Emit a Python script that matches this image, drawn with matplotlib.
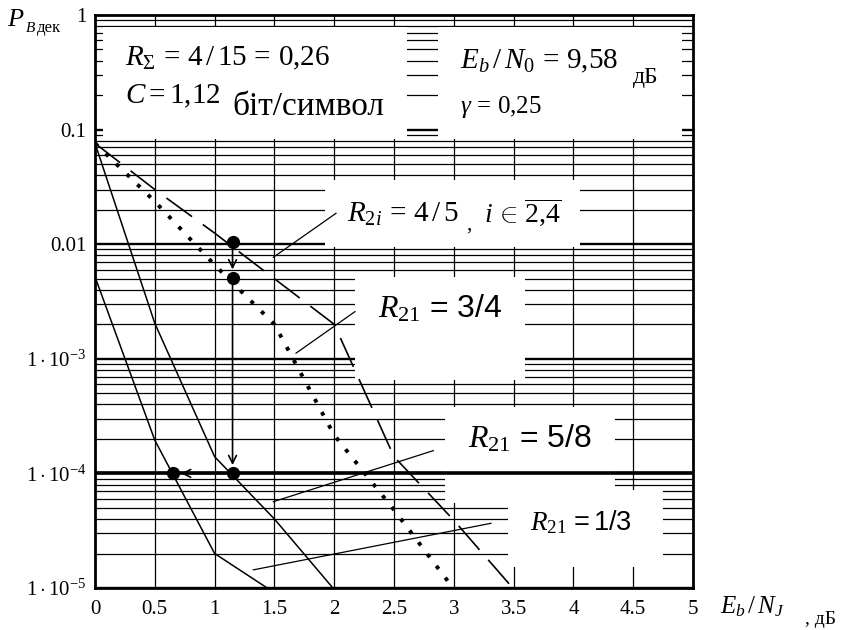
import numpy as np
import matplotlib
matplotlib.use("Agg")
import matplotlib.pyplot as plt
from matplotlib.patches import Rectangle

plt.rcParams['font.family'] = ['Liberation Serif', 'DejaVu Serif']
plt.rcParams['mathtext.fontset'] = 'custom'
plt.rcParams['mathtext.rm'] = 'Liberation Serif'
plt.rcParams['mathtext.it'] = 'Liberation Serif:italic'
plt.rcParams['mathtext.bf'] = 'Liberation Serif:bold'
plt.rcParams['mathtext.sf'] = 'Liberation Sans'

# Eb/NJ, dB
ebnj_45 = [0, 0.5, 1.0, 1.5, 2.0, 2.5, 3.0, 3.5]
pb_45 = [0.076, 0.030, 0.0125, 0.0050, 0.0020, 1.4e-4, 3.9e-5, 9.8e-6]

ebnj_34 = [0, 0.5, 1.0, 1.5, 2.0, 2.5, 3.0]
pb_34 = [0.076, 0.0236, 0.0066, 0.0020, 2.16e-4, 4.8e-5, 9.8e-6]

ebnj_58 = [0, 0.5, 1.0, 1.5, 2.0]
pb_58 = [0.076, 2.04e-3, 1.4e-4, 4.0e-5, 9.7e-6]

ebnj_13 = [0, 0.5, 1.0, 1.5]
pb_13 = [5.2e-3, 1.95e-4, 2.0e-5, 9.1e-6]

p_required = 1e-4

# working points and the path between them
pt_x = [1.15, 1.15, 1.15, 0.65]
pt_y = [0.0105, 0.0051, 1e-4, 1e-4]

# leader lines from the labels to the curves: (x0, y0, x1, y1)
leaders = [
    (2.015, 0.0186, 1.491, 0.00769),
    (2.174, 2.58e-3, 1.681, 1.12e-3),
    (2.829, 1.58e-4, 1.491, 5.66e-5),
    (3.311, 3.67e-5, 1.324, 1.44e-5),
]

# white label boxes: (x0, x1, y0, y1)
boxes = [
    (0.067, 2.609, 0.0828, 0.786),
    (2.868, 4.908, 0.0828, 0.786),
    (1.923, 4.055, 0.00946, 0.0363),
    (2.174, 3.595, 6.53e-4, 5.17e-3),
    (2.926, 4.348, 5.52e-5, 3.80e-4),
    (3.453, 4.749, 1.52e-5, 7.16e-5),
]

x_ticks = [0, 0.5, 1, 1.5, 2, 2.5, 3, 3.5, 4, 4.5, 5]
x_ticklabels = ['0', '0.5', '1', '1.5', '2', '2.5', '3', '3.5', '4', '4.5', '5']
y_ticks = [1e-5, 1e-4, 1e-3, 1e-2, 1e-1, 1]
y_ticklabels = [r'$1\cdot10^{-5}$', r'$1\cdot10^{-4}$', r'$1\cdot10^{-3}$',
                '0.01', '0.1', '1']

W, H = 853, 630
fig = plt.figure(figsize=(W / 100, H / 100), dpi=100)
ax = fig.add_axes([95 / W, 1 - 588 / H, 598 / W, 573 / H])
ax.set_yscale('log')
ax.set_xlim(0, 5)
ax.set_ylim(1e-5, 1)

# grid drawn by hand so the label boxes can sit on top of it
for dec in range(-5, 0):
    for k in range(1, 10):
        lw = 1.7 if k == 1 else 0.9
        ax.axhline(k * 10.0 ** dec, color='black', lw=lw, zorder=0.5)
for xv in np.arange(0.5, 5, 0.5):
    ax.axvline(xv, color='black', lw=0.9, zorder=0.5)

for x0, x1, y0, y1 in boxes:
    ax.add_patch(Rectangle((x0, y0), x1 - x0, y1 - y0, facecolor='white',
                           edgecolor='none', zorder=1))

ax.axhline(p_required, color='black', lw=2.6, zorder=1.5)

ax.plot(ebnj_45, pb_45, color='black', lw=1.2, ls=(0, (19, 8)), zorder=3)
ax.plot(ebnj_34, pb_34, color='black', lw=2.8, ls=(0, (1, 2.8)), zorder=3)
ax.plot(ebnj_58, pb_58, color='black', lw=1.1, zorder=3)
ax.plot(ebnj_13, pb_13, color='black', lw=1.1, zorder=3)

for x0, y0, x1, y1 in leaders:
    ax.plot([x0, x1], [y0, y1], color='black', lw=0.9, zorder=3)

ax.plot(pt_x, pt_y, 'o', color='black', ms=8.5, zorder=5)
for i in range(len(pt_x) - 1):
    ax.annotate('', xy=(pt_x[i + 1], pt_y[i + 1]), xytext=(pt_x[i], pt_y[i]),
                arrowprops=dict(arrowstyle='->', color='black', lw=1.2,
                                shrinkA=5, shrinkB=6, mutation_scale=14),
                zorder=4)

for s in ax.spines.values():
    s.set_linewidth(2.0)
    s.set_zorder(6)

ax.set_xticks(x_ticks)
ax.set_xticklabels(x_ticklabels, fontsize=15)
ax.set_yticks(y_ticks)
ax.set_yticklabels(y_ticklabels, fontsize=15)
ax.minorticks_off()
ax.tick_params(axis='both', length=0)
ax.tick_params(axis='x', pad=9)
ax.tick_params(axis='y', pad=6)


def put(x, y, s, size, **kw):
    fig.text(x / W, 1 - y / H, s, fontsize=size, va='baseline', ha='left', **kw)


put(7, 26, r'$P$', 19)
put(25, 32, r'$B$', 11)
put(37, 32, 'дек', 12)

put(125, 65, r'$R_{\Sigma}\,=\,4\,/\,15\,=\,0{,}26$', 21)
put(125, 103, r'$C=1{,}12$', 21)
put(232, 115, 'біт/символ', 24)
put(460, 68, r'$E_b\,/\,N_0\,=\,9{,}58$', 21)
put(633, 83, 'дБ', 17)
put(460, 113, r'$\gamma\,=\,0{,}25$', 18)

put(347, 222, r'$R_{2i}\,=\,4\,/\,5$', 21)
put(466, 230, ',', 15)
put(484, 222, r'$i\,\in\,\overline{2{,}4}$', 20)
put(378, 318, r'$R_{21}\mathsf{\,=\,3/4}$', 23)
put(468, 448, r'$R_{21}\mathsf{\,=\,5/8}$', 23)
put(530, 530, r'$R_{21}\mathsf{\,=1/3}$', 19.5)

put(720, 613, r'$E_b\,/\,N_J$', 18)
put(805, 624, ', дБ', 14)

fig.savefig('out.png', dpi=100)
